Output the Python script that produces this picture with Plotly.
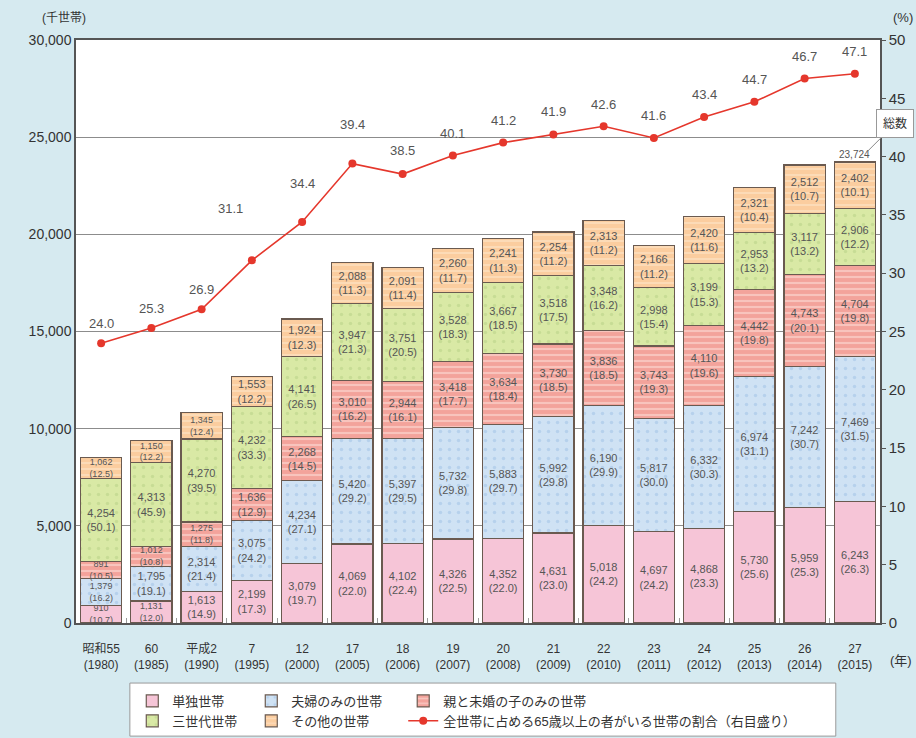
import plotly.graph_objects as go

# ---------------- data ----------------
CATEGORIES = ["昭和55<br>(1980)", "60<br>(1985)", "平成2<br>(1990)", "7<br>(1995)",
              "12<br>(2000)", "17<br>(2005)", "18<br>(2006)", "19<br>(2007)",
              "20<br>(2008)", "21<br>(2009)", "22<br>(2010)", "23<br>(2011)",
              "24<br>(2012)", "25<br>(2013)", "26<br>(2014)", "27<br>(2015)"]

SINGLE = [910, 1131, 1613, 2199, 3079, 4069, 4102, 4326, 4352, 4631, 5018, 4697, 4868, 5730, 5959, 6243]
SINGLE_PCT = [10.7, 12.0, 14.9, 17.3, 19.7, 22.0, 22.4, 22.5, 22.0, 23.0, 24.2, 24.2, 23.3, 25.6, 25.3, 26.3]

COUPLE = [1379, 1795, 2314, 3075, 4234, 5420, 5397, 5732, 5883, 5992, 6190, 5817, 6332, 6974, 7242, 7469]
COUPLE_PCT = [16.2, 19.1, 21.4, 24.2, 27.1, 29.2, 29.5, 29.8, 29.7, 29.8, 29.9, 30.0, 30.3, 31.1, 30.7, 31.5]

PARENT_CHILD = [891, 1012, 1275, 1636, 2268, 3010, 2944, 3418, 3634, 3730, 3836, 3743, 4110, 4442, 4743, 4704]
PARENT_CHILD_PCT = [10.5, 10.8, 11.8, 12.9, 14.5, 16.2, 16.1, 17.7, 18.4, 18.5, 18.5, 19.3, 19.6, 19.8, 20.1, 19.8]

THREE_GEN = [4254, 4313, 4270, 4232, 4141, 3947, 3751, 3528, 3667, 3518, 3348, 2998, 3199, 2953, 3117, 2906]
THREE_GEN_PCT = [50.1, 45.9, 39.5, 33.3, 26.5, 21.3, 20.5, 18.3, 18.5, 17.5, 16.2, 15.4, 15.3, 13.2, 13.2, 12.2]

OTHER = [1062, 1150, 1345, 1553, 1924, 2088, 2091, 2260, 2241, 2254, 2313, 2166, 2420, 2321, 2512, 2402]
OTHER_PCT = [12.5, 12.2, 12.4, 12.2, 12.3, 11.3, 11.4, 11.7, 11.3, 11.2, 11.2, 11.2, 11.6, 10.4, 10.7, 10.1]

RATIO = [24.0, 25.3, 26.9, 31.1, 34.4, 39.4, 38.5, 40.1, 41.2, 41.9, 42.6, 41.6, 43.4, 44.7, 46.7, 47.1]

SERIES_NAMES = ["単独世帯", "夫婦のみの世帯", "親と未婚の子のみの世帯", "三世代世帯", "その他の世帯"]
LINE_NAME = "全世帯に占める65歳以上の者がいる世帯の割合（右目盛り）"
TOTAL_NAME = "総数"

# ---------------- styles ----------------
FONT = "Liberation Sans, Noto Sans CJK JP, sans-serif"
OUTLINE = "#6a5a50"
STYLES = [
    dict(color="#f6c5d7", pattern=dict(shape="", bgcolor="#f6c5d7")),
    dict(color="#cfe2f4", pattern=dict(shape=".", bgcolor="#cfe2f4", fgcolor="#9dbfe3", size=9, solidity=0.12)),
    dict(color="#f3a39b", pattern=dict(shape="-", bgcolor="#f3a39b", fgcolor="#fde6e0", size=6, solidity=0.35)),
    dict(color="#d9e9a5", pattern=dict(shape=".", bgcolor="#d9e9a5", fgcolor="#b6cf86", size=9, solidity=0.12)),
    dict(color="#fbcd9f", pattern=dict(shape="-", bgcolor="#fbcd9f", fgcolor="#fdebd6", size=6, solidity=0.3)),
]
LEGEND_OF = ["legend", "legend2", "legend3", "legend", "legend2"]
SMALL_SEGMENT = 1400   # segments below this get a slightly smaller label font
# label offsets (pixels) for the ratio line labels
LABEL_DX = [0, 0, 0, -21, 0, 0, 0, 0, 0, 0, 0, 0, 0, 0, 0, 0]
LABEL_DY = [20, 20, 20, 52, 38, 39, 24, 22, 22, 23, 22, 22, 22, 22, 22, 22]

values = [SINGLE, COUPLE, PARENT_CHILD, THREE_GEN, OTHER]
pcts = [SINGLE_PCT, COUPLE_PCT, PARENT_CHILD_PCT, THREE_GEN_PCT, OTHER_PCT]

fig = go.Figure()
for name, vals, pc, st, lg in zip(SERIES_NAMES, values, pcts, STYLES, LEGEND_OF):
    fig.add_trace(go.Bar(
        x=CATEGORIES, y=vals, name=name, legend=lg,
        text=[f"{v:,}<br>({p:.1f})" for v, p in zip(vals, pc)],
        textposition="inside", insidetextanchor="middle", textangle=0,
        constraintext="none",
        textfont=dict(family=FONT, color="#555555",
                      size=[9 if v < SMALL_SEGMENT else 11 for v in vals]),
        marker=dict(color=st["color"], pattern=st["pattern"],
                    line=dict(color=OUTLINE, width=1.2)),
        hoverinfo="skip",
    ))

fig.add_trace(go.Scatter(
    x=CATEGORIES, y=RATIO, name=LINE_NAME, yaxis="y2", legend="legend3",
    mode="lines+markers",
    line=dict(color="#e5372c", width=1.6),
    marker=dict(color="#e5372c", size=8),
    hoverinfo="skip",
))

annotations = []
for cat, r, dx, dy in zip(CATEGORIES, RATIO, LABEL_DX, LABEL_DY):
    annotations.append(dict(x=cat, y=r, yref="y2", text=f"{r:.1f}", showarrow=False,
                            xshift=dx, yshift=dy, font=dict(family=FONT, size=13, color="#555555")))

totals = [sum(t) for t in zip(*values)]
last = len(CATEGORIES) - 1
annotations.append(dict(x=CATEGORIES[last], y=totals[last], yref="y", text=f"{totals[last]:,}",
                        showarrow=False, yanchor="bottom", yshift=0, xshift=0,
                        font=dict(family=FONT, size=10, color="#555555")))
annotations.append(dict(x=CATEGORIES[last], y=totals[last], yref="y", text=TOTAL_NAME,
                        showarrow=True, arrowhead=0, arrowwidth=1, arrowcolor="#888888",
                        xshift=12, yshift=10, ax=28, ay=-28,
                        bgcolor="white", bordercolor="#999999", borderwidth=1, borderpad=6,
                        font=dict(family=FONT, size=12, color="#333333")))
annotations += [
    dict(xref="paper", yref="paper", x=-0.045, y=1.038, yanchor="middle", text="(千世帯)",
         showarrow=False, font=dict(family=FONT, size=12, color="#333333")),
    dict(xref="paper", yref="paper", x=1.043, xanchor="right", y=1.038, yanchor="middle",
         text="(%)", showarrow=False, font=dict(family=FONT, size=13, color="#333333")),
    dict(xref="paper", yref="paper", x=1.042, xanchor="right", y=-0.065, yanchor="middle",
         text="(年)", showarrow=False, font=dict(family=FONT, size=13, color="#333333")),
]

legend_common = dict(orientation="v", yanchor="top", y=-0.108, xanchor="left",
                     bgcolor="rgba(0,0,0,0)", borderwidth=0,
                     font=dict(family=FONT, size=13, color="#333333"), traceorder="normal")

fig.update_layout(
    width=916, height=738,
    margin=dict(l=76, r=36, t=40, b=115, autoexpand=False),
    paper_bgcolor="#d6eaf0", plot_bgcolor="white",
    barmode="stack", bargap=0.18,
    showlegend=True,
    legend=dict(x=0.07, **legend_common),
    legend2=dict(x=0.218, **legend_common),
    legend3=dict(x=0.407, **legend_common),
    xaxis=dict(type="category", range=[-0.5, len(CATEGORIES) - 0.5],
               showline=True, linecolor="#555555", linewidth=1.5, mirror=True,
               ticks="inside", tickson="boundaries", ticklen=5, tickcolor="#999999",
               tickangle=0, ticklabelstandoff=14,
               tickfont=dict(family=FONT, size=12, color="#333333")),
    yaxis=dict(range=[0, 30000], dtick=5000, tickformat=",", showgrid=True, gridcolor="#8c8c8c",
               gridwidth=1, showline=True, linecolor="#555555", linewidth=1.5, mirror=False,
               zeroline=False, tickfont=dict(family=FONT, size=14, color="#333333")),
    yaxis2=dict(range=[0, 50], dtick=5, overlaying="y", side="right", showgrid=False,
                showline=True, linecolor="#555555", linewidth=1.5, ticks="outside", ticklen=4,
                tickcolor="#555555", zeroline=False,
                tickfont=dict(family=FONT, size=15, color="#333333")),
    annotations=annotations,
    shapes=[dict(type="rect", xref="paper", yref="paper", x0=0.067, x1=0.945, y0=-0.194, y1=-0.103,
                 line=dict(color="#9a9a9a", width=1), fillcolor="white", layer="below")],
)

fig.write_html("out.html", config={"displayModeBar": False},
               post_script="document.body.style.margin='0';document.body.style.background='#d6eaf0';")
